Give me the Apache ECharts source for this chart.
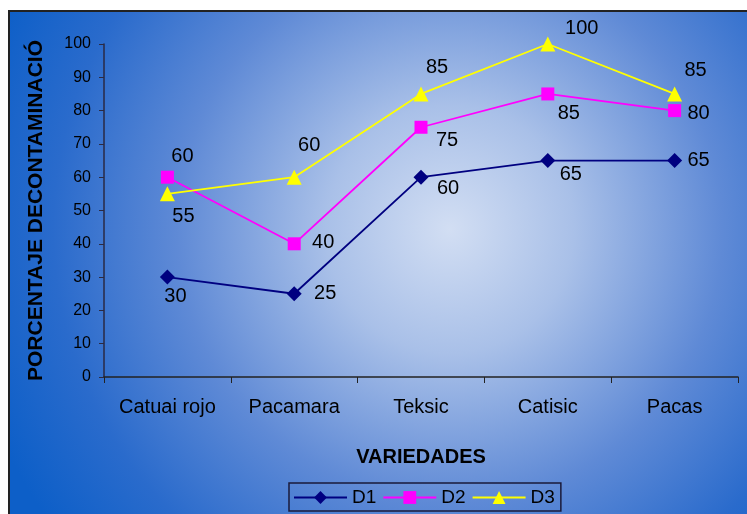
<!DOCTYPE html>
<html>
<head>
<meta charset="utf-8">
<script src="https://cdn.jsdelivr.net/npm/echarts@6/dist/echarts.min.js"></script>
<style>
  html, body { margin: 0; padding: 0; background: #ffffff; }
  #chart { width: 747px; height: 514px; }
</style>
</head>
<body>
<div id="chart"></div>
<script>
// Varieties on the x axis
const categories = ['Catuai rojo', 'Pacamara', 'Teksic', 'Catisic', 'Pacas'];
const yTicks = [0, 10, 20, 30, 40, 50, 60, 70, 80, 90, 100];

// Decontamination percentage per dose
const d1 = [30, 25, 60, 65, 65];
const d2 = [60, 40, 75, 85, 80];
const d3 = [55, 60, 85, 100, 85];

// Where each value label sits relative to its marker (pixels)
const d1LabelOffsets = [[8, 19], [31, 0], [27, 11], [23, 14], [24, 0]];
const d2LabelOffsets = [[15, -21], [29, -1], [26, 13], [21, 20], [24, 3]];
const d3LabelOffsets = [[16, 23], [15, -32], [16, -26], [34, -16], [21, -23]];

const FONT = 'Liberation Sans, Arial, sans-serif';

function buildData(values, offsets) {
  return values.map((v, i) => ({
    value: v,
    label: { offset: offsets[i] }
  }));
}

function makeSeries(name, values, offsets, color, symbol, size) {
  return {
    name: name,
    type: 'line',
    data: buildData(values, offsets),
    symbol: symbol,
    symbolSize: size,
    lineStyle: { color: color, width: 1.8 },
    itemStyle: { color: color },
    label: {
      show: true,
      position: 'inside',
      color: '#000',
      fontFamily: FONT,
      fontSize: 20
    },
    emphasis: { disabled: true },
    z: 3
  };
}

const chart = echarts.init(document.getElementById('chart'), null, { renderer: 'canvas' });

chart.setOption({
  animation: false,
  backgroundColor: '#ffffff',
  graphic: [{
    type: 'rect',
    z: -10,
    silent: true,
    shape: { x: 9, y: 11, width: 760, height: 520 },
    style: {
      fill: {
        type: 'radial',
        x: 0.58, y: 0.42, r: 0.95,
        colorStops: [
          { offset: 0, color: '#d2def3' },
          { offset: 0.25, color: '#a9c0e8' },
          { offset: 0.55, color: '#5f8ad6' },
          { offset: 0.8, color: '#2a6bcc' },
          { offset: 1, color: '#0d5fc8' }
        ]
      },
      stroke: '#222',
      lineWidth: 2
    }
  }],
  grid: { left: 104, right: 9, top: 44, bottom: 137, containLabel: false },
  legend: {
    bottom: 3,
    left: 289,
    data: ['D1', 'D2', 'D3'],
    borderColor: '#1a1a3a',
    borderWidth: 1.5,
    padding: [5, 6, 4, 4],
    itemGap: 6,
    itemWidth: 53,
    itemHeight: 16,
    textStyle: { fontFamily: FONT, fontSize: 19, color: '#000' }
  },
  xAxis: {
    type: 'category',
    data: categories,
    boundaryGap: true,
    name: 'VARIEDADES',
    nameLocation: 'middle',
    nameGap: 70,
    nameTextStyle: { fontFamily: FONT, fontSize: 20, fontWeight: 'bold', color: '#000' },
    axisLine: { lineStyle: { color: '#222', width: 1.5 } },
    axisTick: { show: true, alignWithLabel: false, length: 6, lineStyle: { color: '#222' } },
    axisLabel: { fontFamily: FONT, fontSize: 20, color: '#000', margin: 20 },
    splitLine: { show: false }
  },
  yAxis: {
    type: 'value',
    min: yTicks[0],
    max: yTicks[yTicks.length - 1],
    interval: 10,
    name: 'PORCENTAJE DECONTAMINACIÓ',
    nameLocation: 'middle',
    nameRotate: 90,
    nameGap: 57,
    nameTextStyle: { fontFamily: FONT, fontSize: 21, fontWeight: 'bold', color: '#000' },
    axisLine: { show: true, lineStyle: { color: '#2a2a44', width: 1.5 } },
    axisTick: { show: true, length: 5, lineStyle: { color: '#2a2a44' } },
    axisLabel: { fontFamily: FONT, fontSize: 16, color: '#000', margin: 13 },
    splitLine: { show: false }
  },
  series: [
    makeSeries('D1', d1, d1LabelOffsets, '#000080', 'diamond', 15),
    makeSeries('D2', d2, d2LabelOffsets, '#ff00ff', 'rect', 13),
    makeSeries('D3', d3, d3LabelOffsets, '#ffff00', 'triangle', 15)
  ]
});
</script>
</body>
</html>
